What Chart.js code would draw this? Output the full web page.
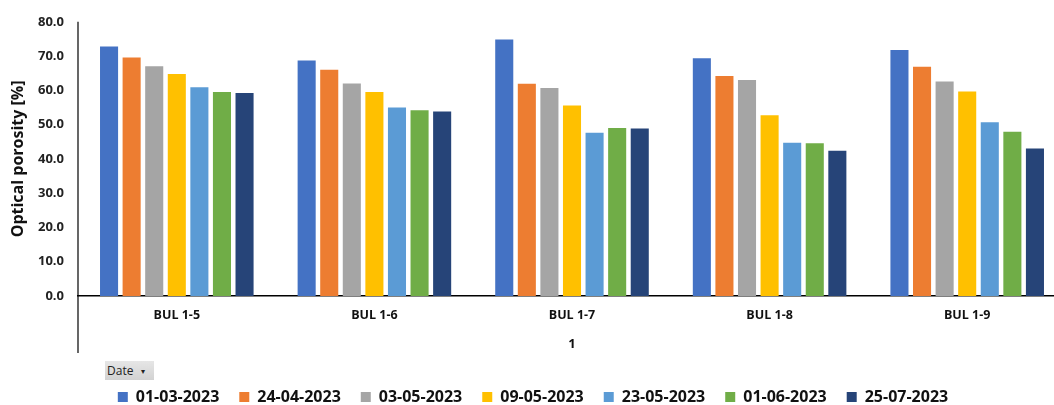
<!DOCTYPE html>
<html>
<head>
<meta charset="utf-8">
<script src="https://cdn.jsdelivr.net/npm/chart.js@4.4.1/dist/chart.umd.min.js"></script>
<style>
  html, body { margin: 0; padding: 0; background: #fff; overflow: hidden; }
  #wrap { position: relative; width: 1068px; height: 405px; }
  #dateBtn {
    position: absolute; left: 105px; top: 361px; width: 49px; height: 19px;
    background: linear-gradient(#e6e6e6, #d2d2d2);
    font: 12px "Open Sans", sans-serif; color: #222;
    box-sizing: border-box; padding-left: 2px; line-height: 19px;
  }
  #dateBtn span { position: absolute; right: 9px; top: 0; font-size: 8px; }
</style>
</head>
<body>
<div id="wrap">
  <canvas id="chart" width="1068" height="405"></canvas>
  <div id="dateBtn">Date<span>▾</span></div>
</div>
<script>
// Sample sites along the x axis
const categories = ['BUL 1-5', 'BUL 1-6', 'BUL 1-7', 'BUL 1-8', 'BUL 1-9'];

// Measurement dates (one series each)
const dates = ['01-03-2023', '24-04-2023', '03-05-2023', '09-05-2023', '23-05-2023', '01-06-2023', '25-07-2023'];

// Optical porosity [%] per site, one array per date
const por_01_03 = [72.8, 68.7, 74.8, 69.4, 71.8];
const por_24_04 = [69.6, 66.0, 61.9, 64.2, 66.9];
const por_03_05 = [67.0, 62.0, 60.7, 63.0, 62.6];
const por_09_05 = [64.8, 59.5, 55.6, 52.7, 59.7];
const por_23_05 = [60.9, 55.0, 47.6, 44.7, 50.7];
const por_01_06 = [59.5, 54.2, 49.0, 44.6, 47.9];
const por_25_07 = [59.2, 53.8, 48.9, 42.4, 43.0];

const yTicks = [0, 10, 20, 30, 40, 50, 60, 70, 80];

const seriesValues = [por_01_03, por_24_04, por_03_05, por_09_05, por_23_05, por_01_06, por_25_07];
const colors = ['#4472C4', '#ED7D31', '#A5A5A5', '#FFC000', '#5B9BD5', '#70AD47', '#264478'];

const FONT = '"Open Sans", sans-serif';
const X_TITLE_PAD_BOTTOM = 17;

// Vertical axis line running from the top of the plot down past the category labels
const axisLine = {
  id: 'axisLine',
  afterDraw(chart) {
    const { ctx, chartArea, scales } = chart;
    ctx.save();
    ctx.strokeStyle = '#000';
    ctx.lineWidth = 1.2;
    ctx.beginPath();
    ctx.moveTo(chartArea.left, chartArea.top);
    ctx.lineTo(chartArea.left, scales.x.bottom - X_TITLE_PAD_BOTTOM + 1);
    ctx.stroke();
    ctx.restore();
  }
};

new Chart(document.getElementById('chart'), {
  type: 'bar',
  data: {
    labels: categories,
    datasets: dates.map((d, i) => ({
      label: d,
      data: seriesValues[i],
      backgroundColor: colors[i],
      borderWidth: 0,
      categoryPercentage: 0.8,
      barPercentage: 0.8
    }))
  },
  options: {
    responsive: false,
    animation: false,
    layout: { padding: { top: 2, right: 2, left: 0, bottom: -10 } },
    plugins: {
      tooltip: { enabled: false },
      legend: {
        position: 'bottom',
        labels: {
          boxWidth: 10,
          boxHeight: 10,
          padding: 20,
          color: '#111',
          font: { family: FONT, size: 16, weight: 'bold' }
        }
      }
    },
    scales: {
      x: {
        afterFit(scale) { scale.height = 73; },
        grid: { display: false, drawTicks: false },
        border: { display: true, color: '#000', width: 1.5 },
        ticks: {
          padding: 12,
          color: '#111',
          font: { family: FONT, size: 12.5, weight: 'bold' }
        },
        title: {
          display: true,
          text: '1',
          color: '#111',
          padding: { top: 0, bottom: X_TITLE_PAD_BOTTOM },
          font: { family: FONT, size: 13, weight: 'bold' }
        }
      },
      y: {
        min: 0,
        max: 80,
        afterFit(scale) { scale.width = 78; },
        afterBuildTicks(scale) { scale.ticks = yTicks.map(v => ({ value: v })); },
        grid: { display: false, drawTicks: false },
        border: { display: false },
        ticks: {
          padding: 14,
          color: '#222',
          font: { family: FONT, size: 13, weight: 'bold' },
          callback: v => Number(v).toFixed(1)
        },
        title: {
          display: true,
          text: 'Optical porosity [%]',
          color: '#111',
          padding: { top: 8.4, bottom: 0 },
          font: { family: FONT, size: 16, weight: 'bold' }
        }
      }
    }
  },
  plugins: [axisLine]
});
</script>
</body>
</html>
